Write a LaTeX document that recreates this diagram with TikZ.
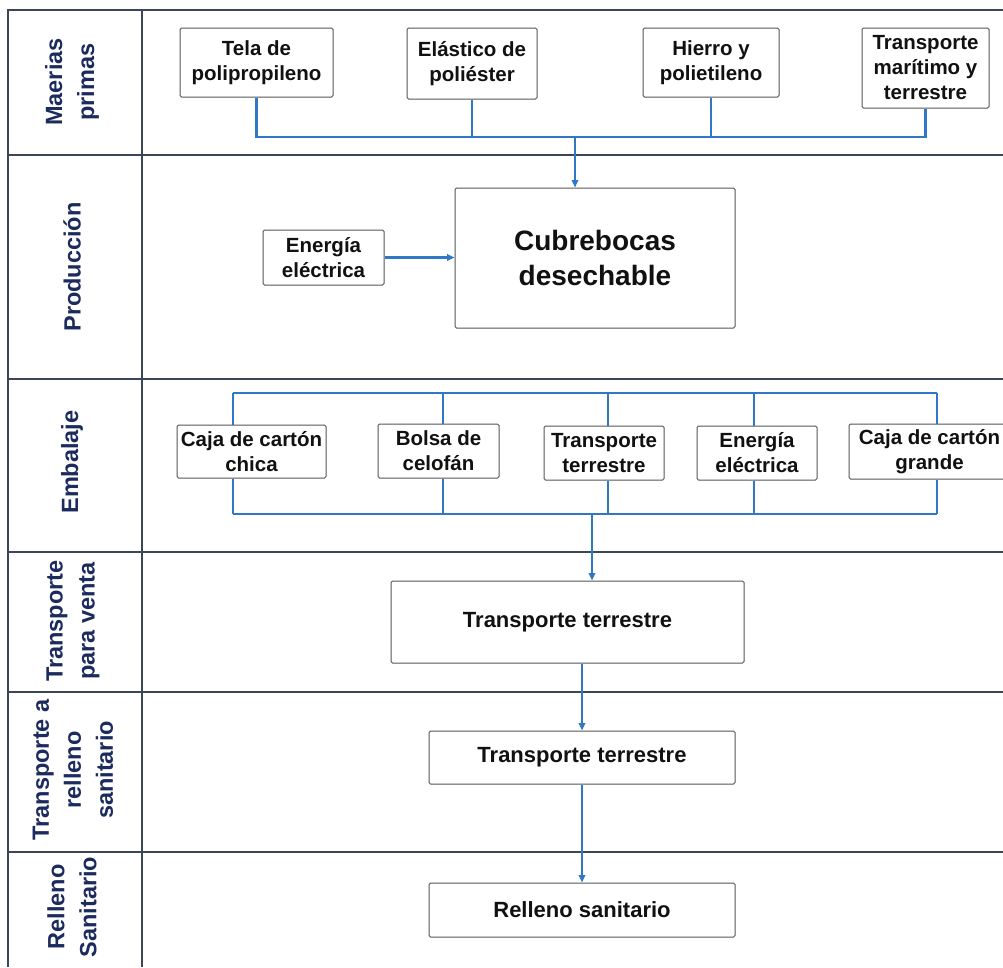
\documentclass[tikz,border=0pt]{standalone}
\usepackage{fontspec}
\setmainfont{Liberation Sans}
\usetikzlibrary{arrows.meta}
\definecolor{lanecol}{HTML}{3B4656}
\definecolor{headcol}{HTML}{1C2B5E}
\definecolor{linkcol}{HTML}{2F78C4}
\definecolor{boxcol}{HTML}{555555}
\definecolor{txtcol}{HTML}{111111}
\tikzset{
  lane/.style={draw=lanecol, line width=1.3pt},
  head/.style={rotate=90, align=center, text=headcol, inner sep=0pt,
               font=\bfseries\fontsize{23.5}{32}\selectfont},
  box/.style={draw=boxcol, line width=1pt, rounded corners=1.5pt, fill=white,
              align=center, inner sep=0pt, text=txtcol,
              font=\bfseries\fontsize{20.5}{25}\selectfont},
  bigbox/.style={box, font=\bfseries\fontsize{22}{27}\selectfont},
  conn/.style={draw=linkcol, line width=2.2pt},
  arr/.style={conn, -{Triangle[length=7.5pt,width=6.5pt]}},
}
\begin{document}
\begin{tikzpicture}[x=1pt,y=-1pt]
\useasboundingbox[fill=white] (0,0) rectangle (1003,967);

% swimlane grid
\draw[lane] (8,967) -- (8,10) -- (1003,10);
\draw[lane] (142,10) -- (142,967);
\foreach \yy in {155,379,552,692,852}
  \draw[lane] (8,\yy) -- (1003,\yy);

% lane titles
\node[head] (h1) at (72,82)  {Maerias\\primas};
\node[head] (h2) at (72,267) {Producción};
\node[head] (h3) at (72,462) {Embalaje};
\node[head] (h4) at (73,621) {Transporte\\para venta};
\node[head] (h5) at (73,770) {Transporte a\\relleno\\sanitario};
\node[head] (h6) at (72,907) {Relleno\\Sanitario};

% raw materials
\node[box, minimum width=153pt, minimum height=69pt] (tela)   at (256.5,62.5) {Tela de\\polipropileno};
\node[box, minimum width=130pt, minimum height=71pt] (elas)   at (472,63.5)   {Elástico de\\poliéster};
\node[box, minimum width=136pt, minimum height=69pt] (hierro) at (711,62.5)   {Hierro y\\polietileno};
\node[box, minimum width=127pt, minimum height=80pt] (tmar)   at (925.5,68)   {Transporte\\marítimo y\\terrestre};

\coordinate (mpbus) at (575,137);
\draw[conn] (tela.south)   |- (mpbus);
\draw[conn] (elas.south)   |- (mpbus);
\draw[conn] (hierro.south) |- (mpbus);
\draw[conn] (tmar.south)   |- (mpbus);

% production
\node[box, minimum width=280pt, minimum height=140pt,
      font=\bfseries\fontsize{28}{35}\selectfont] (cubre) at (595,258) {Cubrebocas\\desechable};
\node[box, minimum width=121pt, minimum height=55pt] (energ1) at (323.5,257.5) {Energía\\eléctrica};
\draw[arr] (mpbus) -- (cubre.north -| mpbus);
\draw[arr] (energ1.east) -- (cubre.west |- energ1.east);

% packaging
\node[box, minimum width=149pt, minimum height=53pt] (cajaC)  at (251.5,451.5) {Caja de cartón\\chica};
\node[box, minimum width=121pt, minimum height=54pt] (bolsa)  at (438.5,451)   {Bolsa de\\celofán};
\node[box, minimum width=120pt, minimum height=54pt] (tterr)  at (604,453)     {Transporte\\terrestre};
\node[box, minimum width=120pt, minimum height=54pt] (energ2) at (757,453)     {Energía\\eléctrica};
\node[box, minimum width=161pt, minimum height=55pt] (cajaG)  at (929.5,451.5) {Caja de cartón\\grande};

\coordinate (t1) at (233,393); \coordinate (b1) at (233,514);
\coordinate (t2) at (443,393); \coordinate (b2) at (443,514);
\coordinate (t3) at (608,393); \coordinate (b3) at (608,514);
\coordinate (t4) at (754,393); \coordinate (b4) at (754,514);
\coordinate (t5) at (937,393); \coordinate (b5) at (937,514);
\draw[conn] (t1) -- (t5);
\draw[conn] (b1) -- (b5);
\draw[conn] (t1) -- (cajaC.north -| t1);  \draw[conn] (cajaC.south -| b1) -- (b1);
\draw[conn] (t2) -- (bolsa.north -| t2);  \draw[conn] (bolsa.south -| b2) -- (b2);
\draw[conn] (t3) -- (tterr.north -| t3);  \draw[conn] (tterr.south -| b3) -- (b3);
\draw[conn] (t4) -- (energ2.north -| t4); \draw[conn] (energ2.south -| b4) -- (b4);
\draw[conn] (t5) -- (cajaG.north -| t5);  \draw[conn] (cajaG.south -| b5) -- (b5);

% distribution and disposal
\node[bigbox, minimum width=353pt, minimum height=82pt] (venta) at (567.5,622) {Transporte terrestre};
\node[bigbox, minimum width=306pt, minimum height=53pt] (ttr2)  at (582,757.5) {Transporte terrestre};
\node[bigbox, minimum width=306pt, minimum height=54pt] (rell)  at (582,910)   {Relleno sanitario};

\coordinate (pkout) at (592,514);
\draw[arr] (pkout) -- (venta.north -| pkout);
\draw[arr] (venta.south -| ttr2.north) -- (ttr2.north);
\draw[arr] (ttr2.south) -- (rell.north);
\end{tikzpicture}
\end{document}
